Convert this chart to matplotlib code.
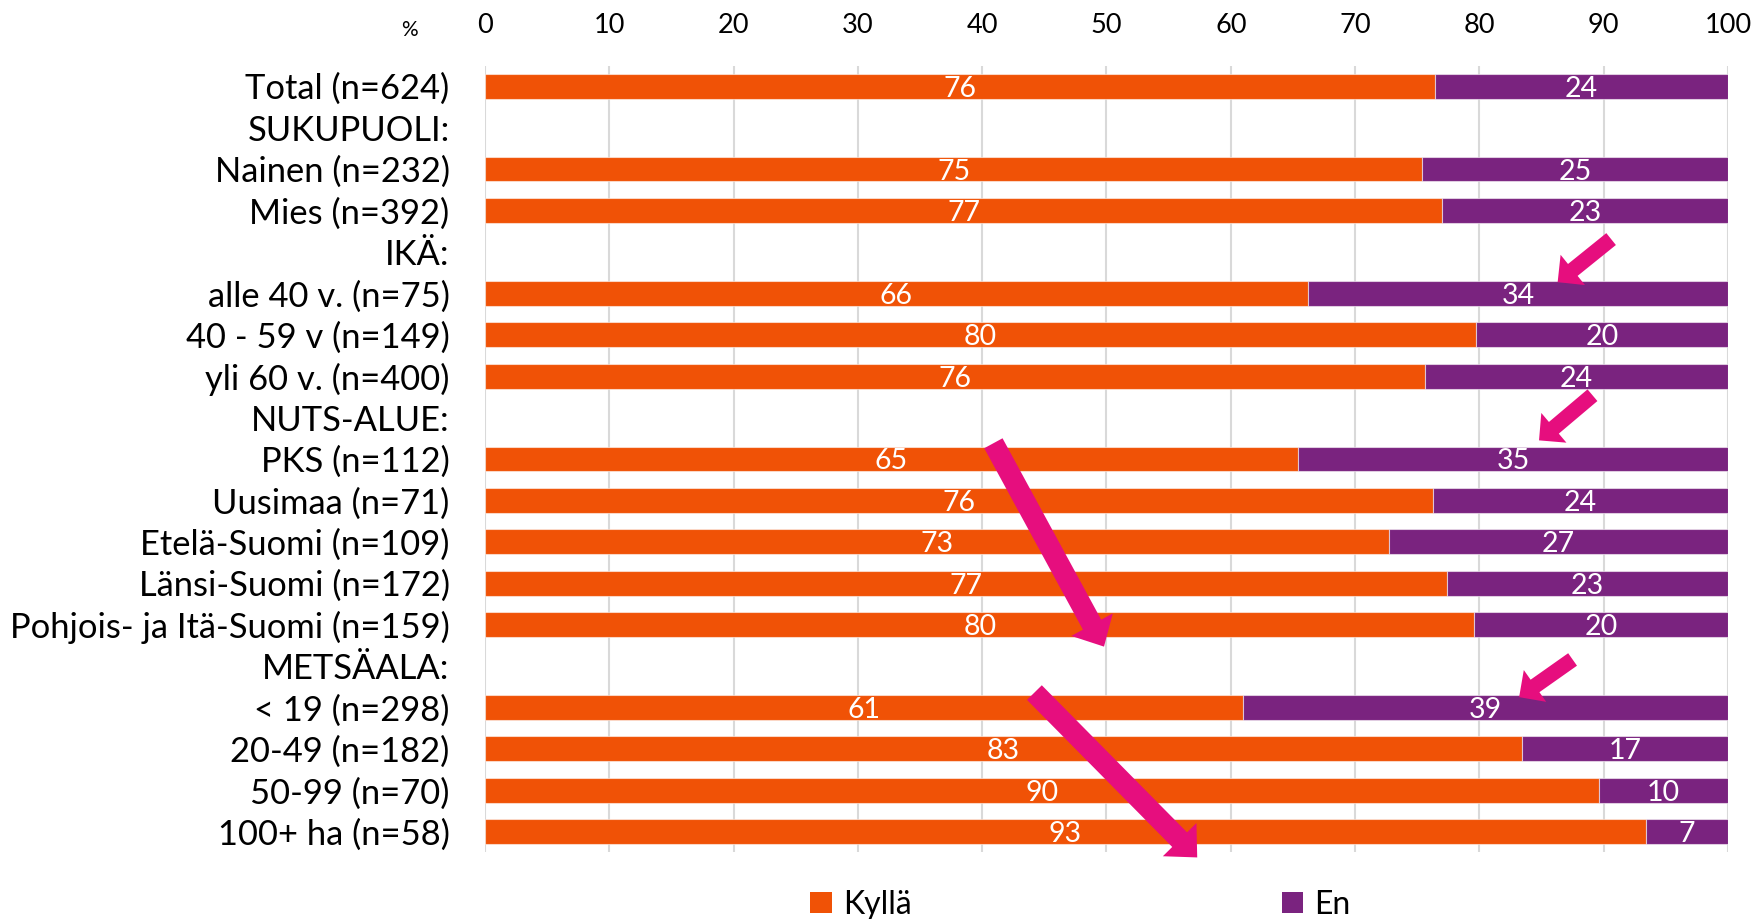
import matplotlib
matplotlib.use("Agg")
import matplotlib.pyplot as plt
import matplotlib.transforms as mtransforms
import numpy as np

categories = ["Total (n=624)", "SUKUPUOLI:", "Nainen (n=232)", "Mies (n=392)", "IKÄ:",
              "alle 40 v. (n=75)", "40 - 59 v (n=149)", "yli 60 v. (n=400)", "NUTS-ALUE:",
              "PKS (n=112)", "Uusimaa (n=71)", "Etelä-Suomi (n=109)", "Länsi-Suomi (n=172)",
              "Pohjois- ja Itä-Suomi (n=159)", "METSÄALA:", "< 19 (n=298)", "20-49 (n=182)",
              "50-99 (n=70)", "100+ ha (n=58)"]
kylla = [76.4, None, 75.4, 77.0, None, 66.2, 79.7, 75.6, None, 65.4, 76.3, 72.7, 77.4,
         79.6, None, 61.0, 83.4, 89.6, 93.4]
en = [23.6, None, 24.6, 23.0, None, 33.8, 20.3, 24.4, None, 34.6, 23.7, 27.3, 22.6,
      20.4, None, 39.0, 16.6, 10.4, 6.6]
series_names = ["Kyllä", "En"]
xticks = [0, 10, 20, 30, 40, 50, 60, 70, 80, 90, 100]

ORANGE = "#F05206"
PURPLE = "#7A237F"
PINK = "#E60E7E"
GRID = "#D9D9D9"
FONT = "Lato"

plt.rcParams['font.family'] = [FONT, 'DejaVu Sans']

fig = plt.figure(figsize=(17.58, 9.19), dpi=100)
ax = fig.add_axes([0.2759, 0.0724, 0.9829 - 0.2759, 0.9287 - 0.0724])

idx = [i for i, v in enumerate(kylla) if v is not None]
kv = np.array([kylla[i] for i in idx])
ev = np.array([en[i] for i in idx])
ypos = np.array(idx, dtype=float)

h = 0.6
b1 = ax.barh(ypos, kv, height=h, color=ORANGE, edgecolor=(1, 1, 1, 0.55), linewidth=0.8,
             label=series_names[0], zorder=2)
b2 = ax.barh(ypos, ev, left=kv, height=h, color=PURPLE, edgecolor=(1, 1, 1, 0.55),
             linewidth=0.8, label=series_names[1], zorder=2)

shift = mtransforms.offset_copy(ax.transData, fig=fig, x=0, y=-2.5, units='dots')
for y, k, e in zip(ypos, kv, ev):
    ax.text(k / 2, y, f"{k:.0f}", color='white', fontsize=20.5, ha='center', va='center',
            transform=shift, zorder=3)
    ax.text(k + e / 2, y, f"{e:.0f}", color='white', fontsize=20.5, ha='center', va='center',
            transform=shift, zorder=3)

ax.set_xlim(0, 100)
ax.set_ylim(len(categories) - 0.5, -0.5)
ax.set_yticks(range(len(categories)))
ax.set_yticklabels(categories, fontsize=24.8)
ax.set_xticks(xticks)
ax.set_xticklabels([str(t) for t in xticks], fontsize=19.5)
ax.xaxis.tick_top()
ax.tick_params(axis='x', length=0, pad=20)
ax.tick_params(axis='y', length=0, pad=25.5)
for s in ax.spines.values():
    s.set_visible(False)
ax.grid(axis='x', color=GRID, linewidth=1.5)
ax.set_axisbelow(True)

fig.text(409 / 1758, 1 - 30 / 919, "%", fontsize=15, ha='center', va='center')

# pink arrow annotations (data coordinates: x in %, y in row index)
arrows = [
    ((90.6, 3.69), (86.3, 4.73), "small"),
    ((89.1, 7.46), (84.8, 8.55), "small"),
    ((87.5, 13.84), (83.2, 14.75), "small"),
    ((40.9, 8.62), (49.8, 13.53), "big"),
    ((44.2, 14.64), (57.3, 18.62), "big"),
]
for tail, tip, kind in arrows:
    if kind == "big":
        st = "simple,tail_width=15,head_width=34,head_length=18"
    else:
        st = "simple,tail_width=11,head_width=28,head_length=14"
    ax.annotate("", xy=tip, xytext=tail, annotation_clip=False,
                arrowprops=dict(arrowstyle=st, color=PINK, mutation_scale=1,
                                shrinkA=0, shrinkB=0, linewidth=0),
                zorder=5)

leg = fig.legend(handles=[b1, b2], labels=series_names, loc='center',
                 bbox_to_anchor=(1080.5 / 1758, 1 - 904.5 / 919), ncol=2, frameon=False,
                 fontsize=23, handlelength=0.66, handleheight=0.66, handletextpad=0.35,
                 columnspacing=11.6, borderpad=0)
for p in leg.get_patches():
    p.set_edgecolor('none')

fig.savefig("out.png", dpi=100)
